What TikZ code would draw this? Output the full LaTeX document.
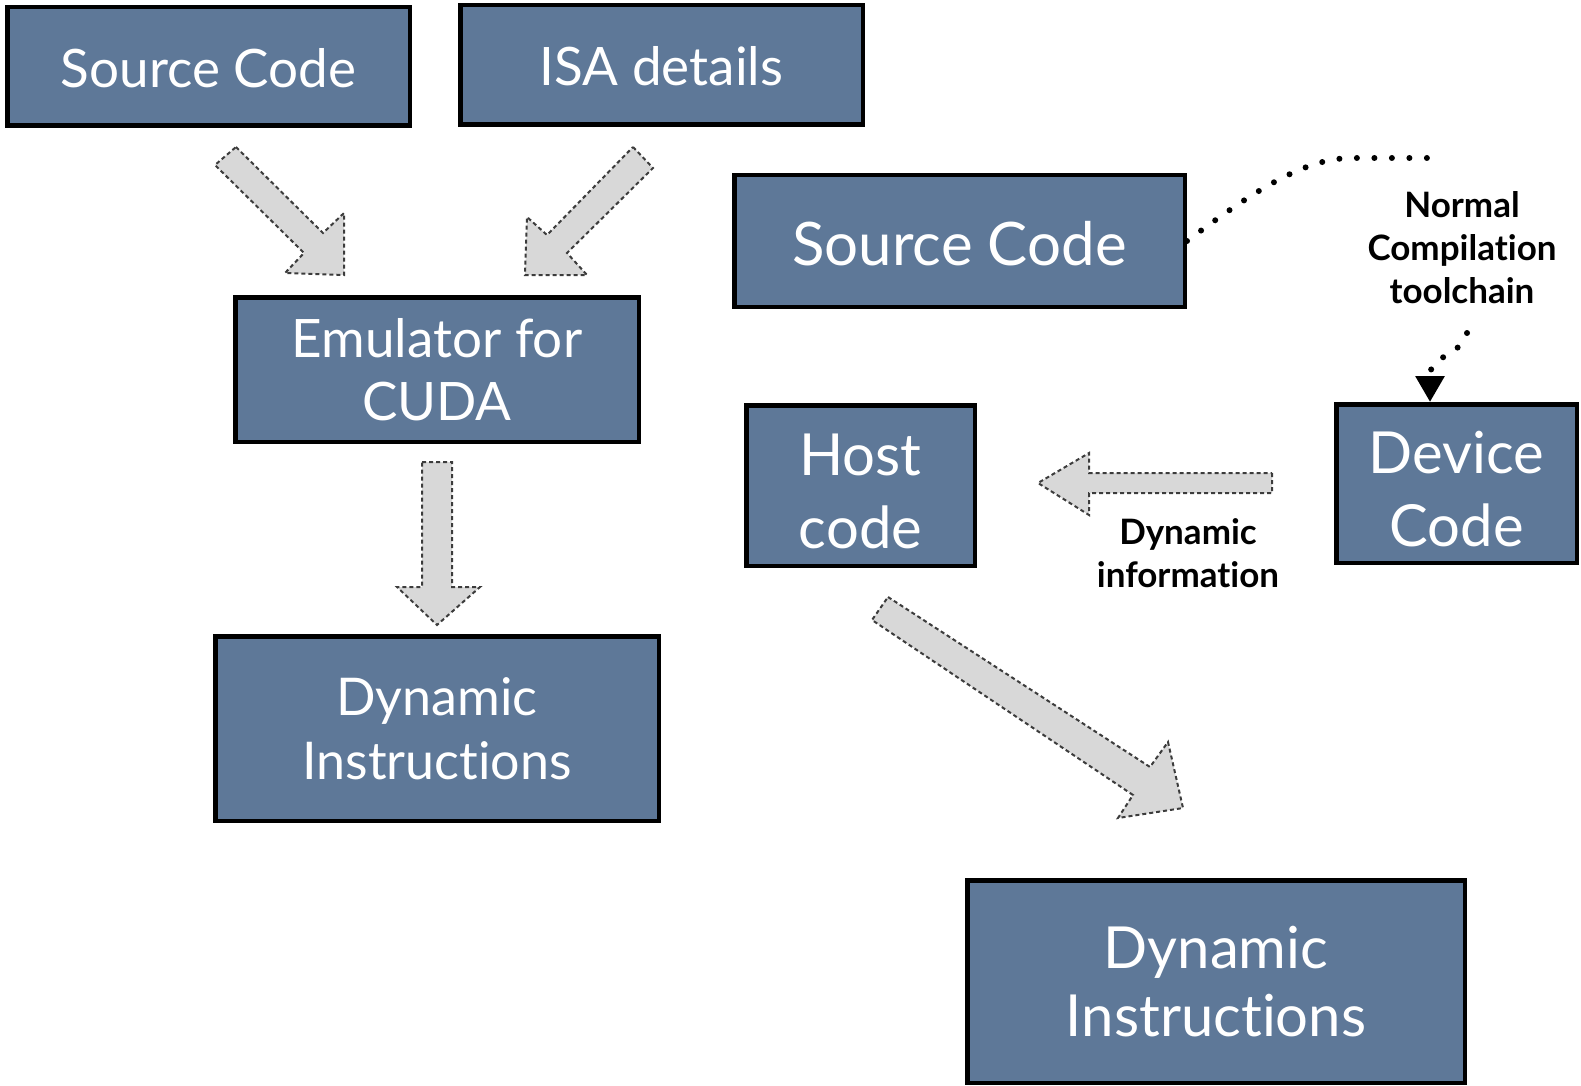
\documentclass[tikz,border=0pt]{standalone}
\usepackage{fontspec}
\setmainfont{Lato}[Ligatures={NoCommon,NoDiscretionary}]
\usetikzlibrary{arrows.meta}
\definecolor{slate}{RGB}{94,120,152}
\definecolor{arrowfill}{RGB}{216,216,216}
\definecolor{arrowedge}{RGB}{60,60,60}
\newcommand\fsz[2]{\fontsize{#1}{#2}\selectfont}
\tikzset{
  box/.style={draw=black, line width=4.5pt, fill=slate, text=white,
    align=center, inner sep=0pt},
  blockarrow/.style={fill=arrowfill, draw=arrowedge, line width=2pt,
    dash pattern=on 4pt off 3pt, line join=miter},
  dots/.style={line width=6pt, line cap=round, dash pattern=on 0pt off 17.5pt},
  note/.style={font=\bfseries\fsz{35}{43}, align=center, text=black, inner sep=0pt}
}
\begin{document}
\begin{tikzpicture}[x=1pt, y=-1pt]
\useasboundingbox (0,0) rectangle (1581,1086);

% ---- left flow: emulator ----
\node[box, minimum width=402.5pt, minimum height=118.5pt, font=\fsz{53}{63}]
  (srcL) at (208.5,66.5) {\rule{0pt}{42pt}Source Code};
\node[box, minimum width=402.5pt, minimum height=119.5pt, font=\fsz{53}{63}]
  (isa) at (661.5,65) {\rule{0pt}{42pt}ISA details};
\node[box, minimum width=403.5pt, minimum height=144.5pt, font=\fsz{53}{63}]
  (emu) at (437,369.5) {Emulator for\\CUDA};
\node[box, minimum width=443.5pt, minimum height=184.5pt, font=\fsz{52}{64}]
  (dynL) at (437,728.5) {Dynamic\\Instructions};

% ---- right flow: native toolchain ----
\node[box, minimum width=450.5pt, minimum height=131.5pt, font=\fsz{60}{70}]
  (srcR) at (959.5,241) {\rule{0pt}{50pt}Source Code};
\node[box, minimum width=228.5pt, minimum height=160.5pt, font=\fsz{58}{73}]
  (host) at (860.5,485.5) {\rule{0pt}{53pt}Host\\code};
\node[box, minimum width=240.5pt, minimum height=158.5pt, font=\fsz{58}{73}]
  (dev) at (1456.5,483.5) {\rule{0pt}{54pt}Device\\Code};
\node[box, minimum width=497.5pt, minimum height=202.5pt, font=\fsz{58}{68}]
  (dynR) at (1216,981.5) {Dynamic\\Instructions};

% ---- labels ----
\node[note] (tool) at (1462,248) {Normal\\Compilation\\toolchain};
\node[note] (dyninfo) at (1188,553) {Dynamic\\information};

% ---- block arrows ----
\draw[blockarrow] (236,147) -- (323,233) -- (344,213) -- (344,275)
  -- (285,273) -- (304,253) -- (215,165) -- cycle;
\draw[blockarrow] (633,147) -- (653,168) -- (567,253) -- (587,275)
  -- (525,275) -- (527,217) -- (547,235) -- cycle;
\draw[blockarrow] (422,462) -- (452,462) -- (452,587) -- (480,587)
  -- (437,625) -- (397,587) -- (422,587) -- cycle;
\draw[blockarrow] (1272,473) -- (1272,493) -- (1089,493) -- (1089,515)
  -- (1038,483) -- (1089,453) -- (1089,473) -- cycle;
\draw[blockarrow] (888,597) -- (1150,767) -- (1168,742) -- (1183,808)
  -- (1118,818) -- (1133,795) -- (872,620) -- cycle;

% ---- dotted toolchain path ----
\coordinate (tcTop) at (1430,158);
\coordinate (tcBot) at (1467,333);
\draw[dots] (srcR.east) .. controls (1255,190) and (1305,158) .. (1352,158) -- (tcTop);
\draw[dots, -{Triangle[length=26pt,width=28pt]}] (tcBot)
  .. controls (1456,362) and (1430,352) .. ([xshift=-26.5pt]dev.north);
\end{tikzpicture}
\end{document}
